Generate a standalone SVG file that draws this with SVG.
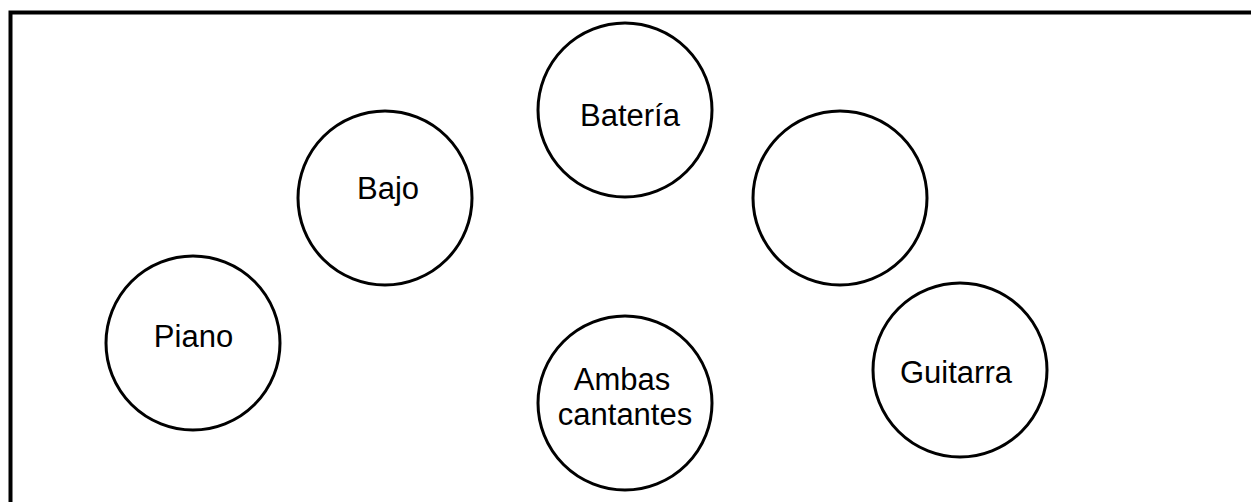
<svg xmlns="http://www.w3.org/2000/svg" width="1251" height="502" viewBox="0 0 1251 502">
<style>
.node circle{fill:#fff;stroke:#000;stroke-width:3}
.node text{font-family:"Liberation Sans",Arial,sans-serif;font-size:31px;fill:#000;text-anchor:middle}
</style>
<rect x="0" y="0" width="1251" height="502" fill="#fff"/>
<rect x="10.5" y="12.5" width="1260" height="520" fill="none" stroke="#000" stroke-width="4"/>
<g id="connectors"></g>
<g id="node-bateria" class="node"><circle cx="625" cy="110" r="87"/><text x="630" y="126">Batería</text></g>
<g id="node-bajo" class="node"><circle cx="385" cy="198" r="87"/><text x="388" y="199">Bajo</text></g>
<g id="node-piano" class="node"><circle cx="193" cy="343" r="87"/><text x="193.5" y="347">Piano</text></g>
<g id="node-empty" class="node"><circle cx="840" cy="198" r="87"/></g>
<g id="node-guitarra" class="node"><circle cx="960" cy="370" r="87"/><text x="956" y="383">Guitarra</text></g>
<g id="node-ambas" class="node"><circle cx="625" cy="403" r="87"/><text x="622" y="390">Ambas</text><text x="625" y="425">cantantes</text></g>
</svg>
